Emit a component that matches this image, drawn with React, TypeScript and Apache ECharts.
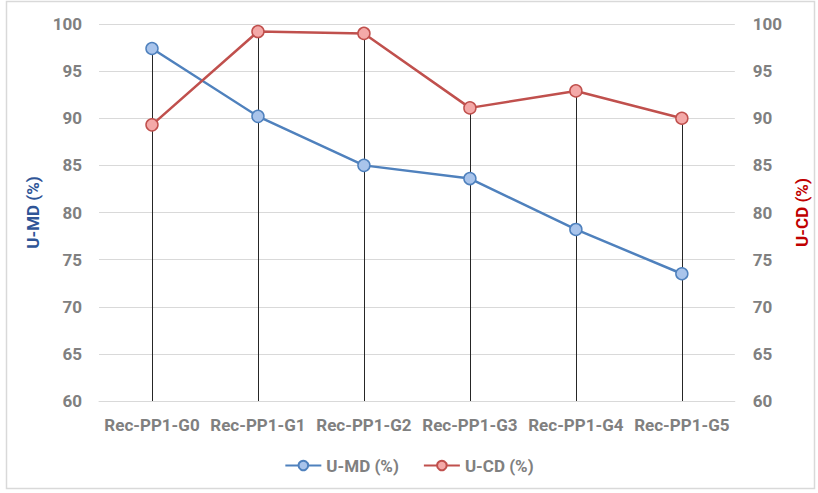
import React, { useEffect, useRef } from "react";
import * as echarts from "echarts";

const categories = ["Rec-PP1-G0", "Rec-PP1-G1", "Rec-PP1-G2", "Rec-PP1-G3", "Rec-PP1-G4", "Rec-PP1-G5"];
const umd = [97.4, 90.2, 85.0, 83.6, 78.2, 73.5];
const ucd = [89.3, 99.2, 99.0, 91.1, 92.9, 90.0];
const seriesNames = ["U-MD (%)", "U-CD (%)"];

const FONT = "Roboto, 'DejaVu Sans', sans-serif";
const LABEL_COLOR = "#808080";

export default function App() {
  const ref = useRef<HTMLDivElement>(null);
  useEffect(() => {
    if (!ref.current) return;
    const chart = echarts.init(ref.current, null, { renderer: "svg" });
    const drops = categories.map((_, i) => [i, Math.max(umd[i], ucd[i])]);
    const yCommon = {
      type: "value",
      min: 60,
      max: 100,
      interval: 5,
      axisLine: { show: false },
      axisTick: { show: false },
      nameLocation: "middle",
      nameRotate: 90,
    };
    chart.setOption({
      animation: false,
      backgroundColor: "#ffffff",
      textStyle: { fontFamily: FONT },
      graphic: [
        {
          type: "rect",
          shape: { x: 6.5, y: 1.5, width: 808, height: 487 },
          style: { fill: "none", stroke: "#d9d9d9", lineWidth: 1.5 },
          silent: true,
        },
      ],
      grid: { left: 99, right: 78, top: 24, bottom: 92 },
      legend: {
        data: seriesNames,
        bottom: 14,
        left: "center",
        itemWidth: 36,
        itemHeight: 12,
        itemGap: 24,
        textStyle: { color: LABEL_COLOR, fontSize: 17, fontWeight: "bold", fontFamily: FONT },
      },
      xAxis: {
        type: "category",
        data: categories,
        boundaryGap: true,
        axisLine: { show: true, lineStyle: { color: "#d9d9d9" } },
        axisTick: { show: false },
        axisLabel: { color: LABEL_COLOR, fontSize: 17, fontWeight: "bold", margin: 15, interval: 0, fontFamily: FONT },
      },
      yAxis: [
        {
          ...yCommon,
          position: "left",
          name: seriesNames[0],
          nameGap: 52,
          nameTextStyle: { color: "#2f5597", fontSize: 17, fontWeight: "bold", fontFamily: FONT },
          splitLine: { show: true, lineStyle: { color: "#d9d9d9", width: 1 } },
          axisLabel: { color: LABEL_COLOR, fontSize: 17, fontWeight: "bold", margin: 17, fontFamily: FONT },
        },
        {
          ...yCommon,
          position: "right",
          name: seriesNames[1],
          nameGap: 50,
          nameTextStyle: { color: "#c00000", fontSize: 17, fontWeight: "bold", fontFamily: FONT },
          splitLine: { show: false },
          axisLabel: { color: LABEL_COLOR, fontSize: 17, fontWeight: "bold", margin: 18, fontFamily: FONT },
        },
      ],
      series: [
        {
          name: "drops",
          type: "custom",
          yAxisIndex: 0,
          z: 1,
          silent: true,
          data: drops,
          renderItem: (params: any, api: any) => {
            const top = api.coord([api.value(0), api.value(1)]);
            const bottom = api.coord([api.value(0), 60]);
            const x = Math.round(top[0]) + 0.5;
            return {
              type: "line",
              shape: { x1: x, y1: top[1], x2: x, y2: bottom[1] },
              style: { stroke: "#262626", lineWidth: 1 },
            };
          },
        },
        {
          name: seriesNames[0],
          type: "line",
          yAxisIndex: 0,
          z: 3,
          data: umd,
          symbol: "circle",
          symbolSize: 12,
          lineStyle: { color: "#4f81bd", width: 2.5 },
          itemStyle: { color: "#a9c4eb", borderColor: "#4f81bd", borderWidth: 1.5 },
        },
        {
          name: seriesNames[1],
          type: "line",
          yAxisIndex: 1,
          z: 3,
          data: ucd,
          symbol: "circle",
          symbolSize: 12,
          lineStyle: { color: "#c0504d", width: 2.5 },
          itemStyle: { color: "#f4a9a8", borderColor: "#c0504d", borderWidth: 1.5 },
        },
      ],
    });
    return () => chart.dispose();
  }, []);
  return <div ref={ref} style={{ width: 818, height: 493, position: "absolute", left: 0, top: 0 }} />;
}
